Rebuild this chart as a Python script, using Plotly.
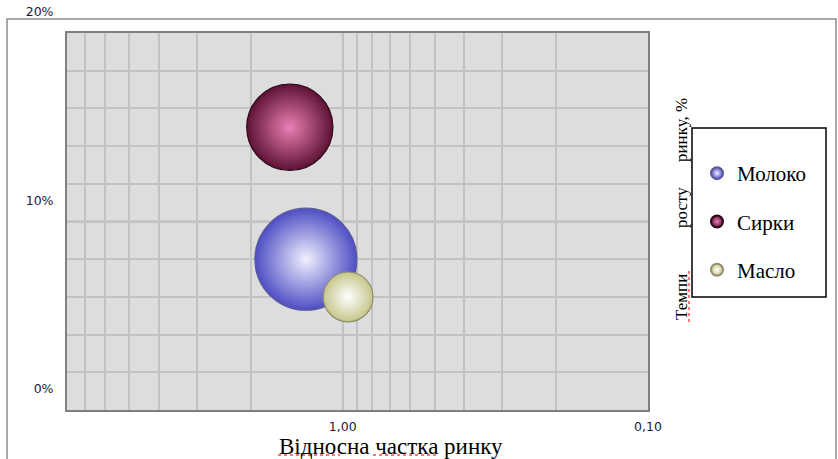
import math
import plotly.graph_objects as go

# ---- data ----
products = ["Молоко", "Сирки", "Масло"]
rel_share = [1.32, 1.49, 0.96]        # relative market share (x, log scale)
growth = [8.0, 15.0, 6.0]             # market growth rate, %
volume = [42, 30, 10]                 # bubble size
main_colors = ["#4e4ec4", "#5e1236", "#c6c68c"]
center_colors = ["#f0f0ff", "#ea80b4", "#ffffff"]
edge_colors = ["#5a5a9a", "#2e0818", "#8e8e6c"]

x_tickvals = [0.1, 0.2, 0.3, 0.4, 0.5, 0.6, 0.7, 0.8, 0.9, 1, 2, 3, 4, 5, 6, 7, 8]
x_ticktext = ["0,10", "", "", "", "", "", "", "", "", "1,00", "", "", "", "", "", "", ""]
y_tickvals = list(range(0, 21, 2))
y_ticktext = ["0%", "", "", "", "", "10%", "", "", "", "", "20%"]

W, H = 838, 459
L, R, T, B = 67, 648, 33, 410
pw, ph = R - L, B - T

def px(x):
    return (x - L) / pw

def py(y):
    return (B - y) / ph

max_d = 102
sizeref = 2.0 * max(volume) / (max_d ** 2)

fig = go.Figure()
for i, name in enumerate(products):
    fig.add_trace(go.Scatter(
        x=[rel_share[i]], y=[growth[i]], name=name, mode="markers",
        legendgroup=name,
        marker=dict(size=[volume[i]], sizemode="area", sizeref=sizeref,
                    color=main_colors[i], opacity=1,
                    gradient=dict(type="radial", color=center_colors[i]),
                    line=dict(color=edge_colors[i], width=1.2)),
    ))

sans = "DejaVu Sans, Verdana, sans-serif"
serif = "Liberation Serif, Times New Roman, serif"

squiggle = dict(color="#ff4a4a", width=1.5, dash="dot")

fig.update_layout(
    width=W, height=H,
    margin=dict(l=L, r=W - R, t=T, b=H - B, autoexpand=False),
    paper_bgcolor="white", plot_bgcolor="#dddddd",
    showlegend=True,
    legend=dict(x=px(697), y=py(153), xanchor="left", yanchor="top",
                font=dict(family=serif, size=21, color="black"),
                bgcolor="rgba(0,0,0,0)", borderwidth=0,
                traceorder="grouped", tracegroupgap=18,
                itemsizing="constant"),
    xaxis=dict(type="log", range=[math.log10(8), -1], automargin=False,
               tickmode="array", tickvals=x_tickvals, ticktext=x_ticktext,
               showgrid=True, gridcolor="#c2c2c2", gridwidth=1.5,
               showline=True, linecolor="#7f7f7f", linewidth=2, mirror=True,
               ticks="", ticklabelstandoff=4,
               tickfont=dict(family=sans, size=12.5, color="#1a1a3a"),
               zeroline=False),
    yaxis=dict(range=[0, 20], tickmode="array", tickvals=y_tickvals,
               ticktext=y_ticktext, automargin=False,
               showgrid=True, gridcolor="#c2c2c2", gridwidth=1.5,
               showline=True, linecolor="#7f7f7f", linewidth=2, mirror=True,
               ticks="", ticklabelstandoff=9, ticklabelshift=-21,
               tickfont=dict(family=sans, size=12.5, color="#1a1a3a"),
               zeroline=False),
    shapes=[
        dict(type="line", xref="x", yref="paper", x0=1, x1=1, y0=0, y1=1,
             line=dict(color="#7a7a7a", width=1.5), layer="below"),
        dict(type="line", xref="paper", yref="y", x0=0, x1=1, y0=10, y1=10,
             line=dict(color="#8a8a8a", width=1.5), layer="below"),
        dict(type="rect", xref="paper", yref="paper",
             x0=px(7), x1=px(836), y0=py(475), y1=py(19),
             line=dict(color="#8c8c8c", width=1.5), fillcolor="rgba(0,0,0,0)"),
        dict(type="rect", xref="paper", yref="paper",
             x0=px(692), x1=px(826), y0=py(297), y1=py(128),
             line=dict(color="black", width=1.5), fillcolor="white",
             layer="below"),
        # spell-check underlines as seen in the source
        dict(type="line", xref="paper", yref="paper",
             x0=px(278), x1=px(340), y0=py(455), y1=py(455), line=squiggle),
        dict(type="line", xref="paper", yref="paper",
             x0=px(373), x1=px(437), y0=py(455), y1=py(455), line=squiggle),
        dict(type="line", xref="paper", yref="paper",
             x0=px(689), x1=px(689), y0=py(322), y1=py(270), line=squiggle),
    ],
    annotations=[
        dict(text="Відносна частка ринку", xref="paper", yref="paper",
             x=px(391), y=py(446), xanchor="center", yanchor="middle",
             showarrow=False, font=dict(family=serif, size=23, color="black")),
        dict(text="Темпи", xref="paper", yref="paper", textangle=-90,
             x=px(681), y=py(297), xanchor="center", yanchor="middle",
             showarrow=False, font=dict(family=serif, size=17, color="black")),
        dict(text="росту", xref="paper", yref="paper", textangle=-90,
             x=px(681), y=py(208), xanchor="center", yanchor="middle",
             showarrow=False, font=dict(family=serif, size=17, color="black")),
        dict(text="ринку, %", xref="paper", yref="paper", textangle=-90,
             x=px(681), y=py(130), xanchor="center", yanchor="middle",
             showarrow=False, font=dict(family=serif, size=17, color="black")),
    ],
)

fig.write_html("out.html")
